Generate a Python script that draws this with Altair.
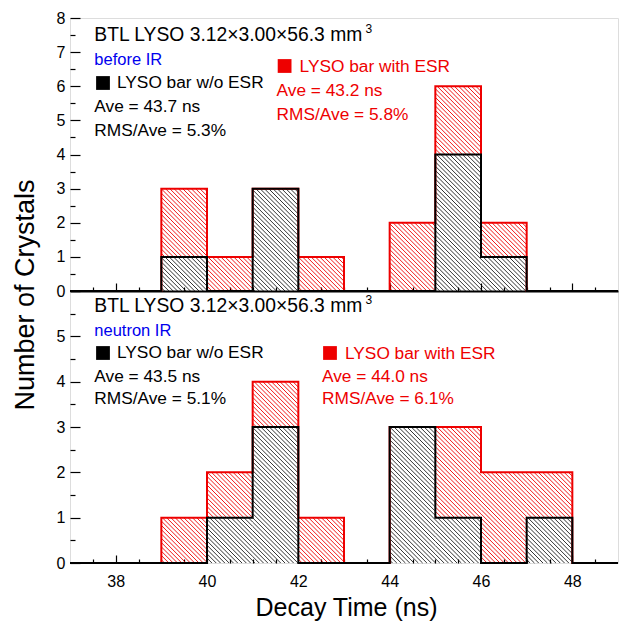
import math
import altair as alt
import pandas as pd

# ---------------- data ----------------
bin_lo = [37, 38, 39, 40, 41, 42, 43, 44, 45, 46, 47, 48]   # lower edge of each 1 ns bin
# counts per bin (ESR counts are stacked on top of the w/o-ESR counts)
before_wo_esr = [0, 0, 1, 0, 3, 0, 0, 0, 4, 1, 0, 0]
before_with_esr = [0, 0, 2, 1, 0, 1, 0, 2, 2, 1, 0, 0]
neutron_wo_esr = [0, 0, 0, 1, 3, 0, 0, 3, 1, 0, 1, 0]
neutron_with_esr = [0, 0, 1, 1, 1, 1, 0, 0, 2, 2, 1, 0]

ave_wo = [43.7, 43.5]        # before IR, neutron IR
rms_wo = [5.3, 5.1]
ave_with = [43.2, 44.0]
rms_with = [5.8, 6.1]
conditions = ["before IR", "neutron IR"]
sample_title = "BTL LYSO 3.12\u00d73.00\u00d756.3 mm"

x_major = [38, 40, 42, 44, 46, 48]
x_minor = [37.5, 38.5, 39, 39.5, 40.5, 41, 41.5, 42.5, 43, 43.5,
           44.5, 45, 45.5, 46.5, 47, 47.5, 48.5]
top_y_major = [0, 1, 2, 3, 4, 5, 6, 7, 8]
top_y_minor = [0.5, 1.5, 2.5, 3.5, 4.5, 5.5, 6.5, 7.5]
bot_y_labels = [0, 1, 2, 3, 4, 5]
bot_y_major = [0, 1, 2, 3, 4, 5, 6]
bot_y_minor = [0.5, 1.5, 2.5, 3.5, 4.5, 5.5]

# ---------------- layout ----------------
FONT = "Liberation Sans"
RED = "#ee0000"
BLUE = "#0000ee"
W, H_TOP, H_BOT = 548, 273, 272
H = H_TOP + H_BOT
X_MIN, X_MAX = 37, 49
SX = W / (X_MAX - X_MIN)
HATCH = 4.3
TXT = 17.3

x_scale = alt.Scale(domain=[X_MIN, X_MAX], nice=False, zero=False)
top_scale = alt.Scale(domain=[0, 8], range=[H_TOP, 0], nice=False, zero=False)
bot_scale = alt.Scale(domain=[0, 6], range=[H, H_TOP], nice=False, zero=False)


def hatch_segments(rects, sy):
    rows = []
    for x0, x1, y0, y1 in rects:
        gmin = SX * (x0 - X_MIN) + sy * y0
        gmax = SX * (x1 - X_MIN) + sy * y1
        for k in range(math.ceil(gmin / HATCH), math.floor(gmax / HATCH) + 1):
            g = k * HATCH
            xa = max(x0, X_MIN + (g - sy * y1) / SX)
            xb = min(x1, X_MIN + (g - sy * y0) / SX)
            if xb - xa < 1e-6:
                continue
            rows.append({"xa": xa, "xb": xb,
                         "ya": (g - SX * (xa - X_MIN)) / sy,
                         "yb": (g - SX * (xb - X_MIN)) / sy})
    return pd.DataFrame(rows, columns=["xa", "xb", "ya", "yb"])


def hist_layers(wo, with_, scale, sy):
    tot = [a + b for a, b in zip(wo, with_)]
    black_rects = [(lo, lo + 1, 0, a) for lo, a in zip(bin_lo, wo) if a > 0]
    red_rects = [(lo, lo + 1, a, t) for lo, a, t in zip(bin_lo, wo, tot) if t > a]
    layers = []
    for rects, color, op in ((red_rects, RED, 0.9), (black_rects, "black", 0.8)):
        seg = hatch_segments(rects, sy)
        layers.append(
            alt.Chart(seg).mark_rule(color=color, strokeWidth=1, opacity=op).encode(
                x=alt.X("xa:Q", scale=x_scale, axis=None), x2="xb:Q",
                y=alt.Y("ya:Q", scale=scale, axis=None), y2="yb:Q"))
    edges = bin_lo + [bin_lo[-1] + 1]
    for counts, color in ((tot, RED), (wo, "black")):
        df = pd.DataFrame({"x": edges, "y": counts + [0]})
        layers.append(
            alt.Chart(df).mark_line(interpolate="step-after", color=color, strokeWidth=2).encode(
                x=alt.X("x:Q", scale=x_scale, axis=None),
                y=alt.Y("y:Q", scale=scale, axis=None)))
    return layers


def x_axis_layer(values, **kw):
    return alt.Chart(pd.DataFrame({"v": values})).mark_point(opacity=0).encode(
        x=alt.X("v:Q", scale=x_scale, axis=alt.Axis(values=values, grid=False, **kw)),
        y=alt.value(0))


def y_axis_layer(values, scale, **kw):
    return alt.Chart(pd.DataFrame({"v": values})).mark_point(opacity=0).encode(
        y=alt.Y("v:Q", scale=scale, axis=alt.Axis(values=values, grid=False, **kw)),
        x=alt.value(0))


def label(text, x, y, size=TXT, color="black"):
    return alt.Chart(pd.DataFrame({"t": [text]})).mark_text(
        align="left", baseline="middle", font=FONT, fontSize=size, color=color).encode(
        x=alt.value(x), y=alt.value(y), text="t:N")


def swatch(x, y, color):
    return alt.Chart(pd.DataFrame({"s": [1]})).mark_square(
        size=190, color=color, opacity=1, filled=True).encode(x=alt.value(x), y=alt.value(y))


inward = dict(labels=False, domain=False, title=None, tickColor="black", tickWidth=1.2)

layers = []
layers += hist_layers(before_wo_esr, before_with_esr, top_scale, H_TOP / 8)
layers += hist_layers(neutron_wo_esr, neutron_with_esr, bot_scale, H_BOT / 6)

# x axes
layers.append(x_axis_layer(x_major, orient="bottom", ticks=False, tickSize=0, domain=False,
                           labelPadding=10, labelFontSize=16, labelFont=FONT, labelColor="black",
                           title="Decay Time (ns)", titleFontSize=25, titleFont=FONT,
                           titleFontWeight="normal", titleColor="black",
                           titleX=W / 2 + 2, titleY=52, titleBaseline="alphabetic"))
layers.append(x_axis_layer(x_major, orient="top", offset=-H, tickSize=8, **inward))
layers.append(x_axis_layer(x_minor, orient="top", offset=-H, tickSize=4, **inward))
layers.append(x_axis_layer(x_major, orient="top", offset=-H_TOP, tickSize=8, labels=False,
                           domain=True, domainColor="black", domainWidth=2, title=None,
                           tickColor="black", tickWidth=1.2))
layers.append(x_axis_layer(x_minor, orient="top", offset=-H_TOP, tickSize=4, **inward))

# y axes, top panel
layers.append(y_axis_layer(top_y_major, top_scale, orient="left", ticks=False, tickSize=0,
                           domain=False, labelPadding=5, labelFontSize=16, labelFont=FONT,
                           labelColor="black", title="Number of Crystals", titleFontSize=27,
                           titleFont=FONT, titleFontWeight="normal", titleColor="black",
                           titleAngle=270, titleX=-37, titleY=276.5, titleAlign="center",
                           titleBaseline="alphabetic"))
layers.append(y_axis_layer(top_y_major, top_scale, orient="right", offset=-W, tickSize=10, **inward))
layers.append(y_axis_layer(top_y_minor, top_scale, orient="right", offset=-W, tickSize=5, **inward))
# y axes, bottom panel
layers.append(y_axis_layer(bot_y_labels, bot_scale, orient="left", ticks=False, tickSize=0,
                           domain=False, labelPadding=5, labelFontSize=16, labelFont=FONT,
                           labelColor="black", title=None))
layers.append(y_axis_layer(bot_y_major, bot_scale, orient="right", offset=-W, tickSize=10, **inward))
layers.append(y_axis_layer(bot_y_minor, bot_scale, orient="right", offset=-W, tickSize=5, **inward))

# annotations (pixel offsets from the plot's top-left corner)
panel_y = [0, H_TOP - 2]
red_x = [206.6, 252]
for i in range(2):
    dy = panel_y[i]
    layers.append(label(sample_title, 24.3, 17 + dy, size=19.3))
    layers.append(label("3", 295.5, 11 + dy, size=12))
    layers.append(label(conditions[i], 24.3, 42 + dy, size=16.5, color=BLUE))
    wy = 65 if i == 0 else 64
    layers.append(swatch(33, wy + dy, "black"))
    layers.append(label("LYSO bar w/o ESR", 47, wy + dy))
    ay = 89 if i == 0 else 88
    layers.append(label(f"Ave = {ave_wo[i]:.1f} ns", 24.3, ay + dy))
    layers.append(label(f"RMS/Ave = {rms_wo[i]:.1f}%", 24.3, ay + 24 + dy - (0 if i == 0 else 2)))
    ry = 48 if i == 0 else 64
    rx = red_x[i]
    layers.append(swatch(rx + 8, ry + dy, RED))
    layers.append(label("LYSO bar with ESR", rx + 23, ry + 1 + dy, color=RED))
    ray = 73 if i == 0 else 88
    layers.append(label(f"Ave = {ave_with[i]:.1f} ns", rx, ray + dy, color=RED))
    layers.append(label(f"RMS/Ave = {rms_with[i]:.1f}%", rx, ray + 24 + dy - (0 if i == 0 else 2), color=RED))

chart = alt.layer(*layers).resolve_scale(y="independent").resolve_axis(
    x="independent", y="independent"
).properties(
    width=W, height=H,
    autosize=alt.AutoSizeParams(type="none"),
    padding={"left": 70, "top": 18, "right": 8, "bottom": 60},
    background="white",
).configure_view(stroke="black", strokeWidth=2).configure(font=FONT)

chart.save("out.html", embed_options={"renderer": "svg", "actions": False})
